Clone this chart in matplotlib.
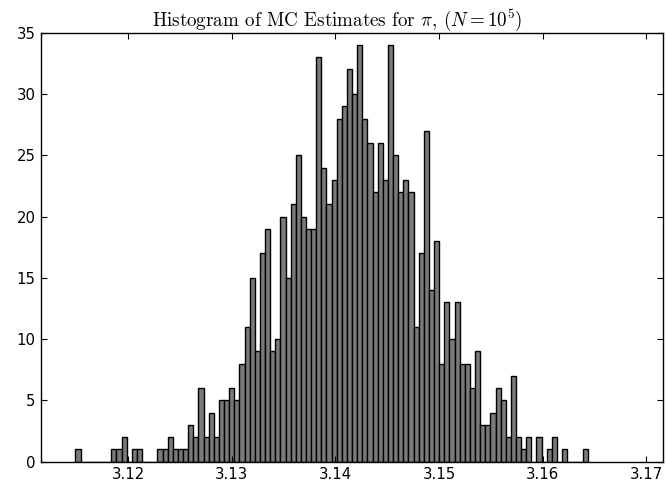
import numpy as np
import matplotlib
matplotlib.use("Agg")
import matplotlib.pyplot as plt

# counts per bin, 1000 Monte Carlo estimates of pi split into 100 bins
bin_min = 3.11492
bin_max = 3.16433
counts = [
    1, 0, 0, 0, 0, 0, 0, 1, 1, 2,
    0, 1, 1, 0, 0, 0, 1, 1, 2, 1,
    1, 1, 3, 2, 6, 2, 4, 2, 5, 5,
    6, 5, 8, 11, 15, 9, 17, 19, 9, 10,
    20, 15, 21, 25, 20, 19, 19, 33, 24, 21,
    23, 28, 29, 32, 30, 34, 28, 26, 22, 26,
    23, 34, 25, 22, 23, 22, 11, 17, 27, 14,
    18, 8, 13, 10, 13, 8, 8, 6, 9, 3,
    3, 4, 6, 5, 2, 7, 2, 1, 2, 0,
    2, 0, 1, 2, 0, 1, 0, 0, 0, 1,
]
x_ticks = [3.12, 3.13, 3.14, 3.15, 3.16, 3.17]
y_ticks = [0, 5, 10, 15, 20, 25, 30, 35]


def draw():
    plt.rcParams["mathtext.fontset"] = "cm"
    plt.rcParams["axes.unicode_minus"] = False

    fig = plt.figure(figsize=(6.66, 4.87), dpi=100)
    ax = fig.add_axes([41 / 666, 25.3 / 487, 622 / 666, 429 / 487])

    edges = np.linspace(bin_min, bin_max, len(counts) + 1)
    ax.hist(edges[:-1], bins=edges, weights=counts,
            color="#7a7a7a", edgecolor="black", linewidth=1.0)

    ax.set_xlim(np.pi - 0.03, np.pi + 0.03)
    ax.set_ylim(0, 35)
    ax.set_xticks(x_ticks)
    ax.set_xticklabels([f"{t:.2f}" for t in x_ticks])
    ax.set_yticks(y_ticks)

    ax.tick_params(direction="in", length=4, width=0.8, top=True, right=True,
                   labelsize=10.7, pad=4)
    for s in ax.spines.values():
        s.set_linewidth(1.0)

    ax.set_title(r"Histogram of MC Estimates for $\pi$, $(N=10^5)$",
                 fontfamily="cmr10", fontsize=13.7, pad=5, x=0.476)

    fig.savefig("out.png", dpi=100)


if __name__ == '__main__':
    draw()
